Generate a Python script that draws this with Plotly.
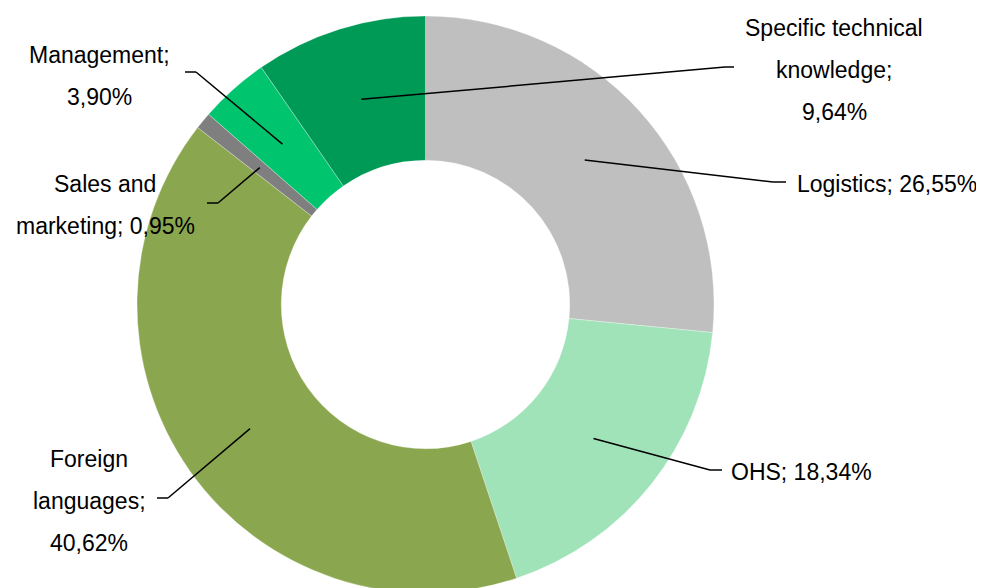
import math

import plotly.graph_objects as go

# ---- data ----
categories = [
    "Logistics",
    "OHS",
    "Foreign languages",
    "Sales and marketing",
    "Management",
    "Specific technical knowledge",
]
shares = [26.55, 18.34, 40.62, 0.95, 3.90, 9.64]
colors = ["#BFBFBF", "#A0E3B9", "#8AA64E", "#7F7F7F", "#00C46E", "#009A57"]

W, H = 984, 588
OFF = 8  # page body margin the figure sits inside
CX, CY, R = 425.5, 304.5, 288.5  # pie centre / outer radius in page px


def px(x, y):
    # page px -> paper coords
    return (x - OFF) / W, 1 - (y - OFF) / H


def fmt(v):
    return f"{v:.2f}".replace(".", ",") + "%"


# label layout: line texts, line anchor (x, y) px, xanchor, elbow, leader end
label_layout = {
    "Logistics": dict(lines=["Logistics; {v}"], x=795, y=[184], xanchor="left",
                      elbow=(773, 182), end=(786, 182)),
    "OHS": dict(lines=["OHS; {v}"], x=729, y=[472], xanchor="left",
                elbow=(710, 470), end=(722, 470)),
    "Foreign languages": dict(lines=["Foreign", "languages;", "{v}"], x=89,
                              y=[459, 501, 543], xanchor="center",
                              elbow=(168, 498), end=(157, 498)),
    "Sales and marketing": dict(lines=["Sales and", "marketing; {v}"], x=105,
                                y=[184, 226], xanchor="center",
                                elbow=(218, 203), end=(207, 203)),
    "Management": dict(lines=["Management;", "{v}"], x=99, y=[55, 97],
                       xanchor="center", elbow=(196, 72), end=(185, 72)),
    "Specific technical knowledge": dict(lines=["Specific technical", "knowledge;", "{v}"],
                                         x=834, y=[28, 70, 112], xanchor="center",
                                         elbow=(725, 67), end=(734, 67)),
}

dx0, dy1 = px(CX - R, CY - R)
dx1, dy0 = px(CX + R, CY + R)

fig = go.Figure(
    go.Pie(
        labels=categories,
        values=shares,
        hole=0.5,
        sort=False,
        direction="clockwise",
        rotation=0,
        marker=dict(colors=colors, line=dict(color="white", width=0.3)),
        textinfo="none",
        hoverinfo="label+percent",
        domain=dict(x=[dx0, dx1], y=[max(dy0, 0), min(dy1, 1)]),
        showlegend=False,
    )
)

annotations = []
shapes = []
total = sum(shares)
cum = 0.0
for name, v in zip(categories, shares):
    mid = (cum + v / 2) / total * 2 * math.pi
    cum += v
    sx = CX + 0.745 * R * math.sin(mid)
    sy = CY - 0.745 * R * math.cos(mid)
    lay = label_layout[name]
    pts = [(sx, sy), lay["elbow"], lay["end"]]
    for (x0, y0), (x1, y1) in zip(pts[:-1], pts[1:]):
        a0, b0 = px(x0, y0)
        a1, b1 = px(x1, y1)
        shapes.append(dict(type="line", xref="paper", yref="paper",
                           x0=a0, y0=b0, x1=a1, y1=b1,
                           line=dict(color="black", width=1.5)))
    for text, ly in zip(lay["lines"], lay["y"]):
        ax, ay = px(lay["x"], ly)
        annotations.append(dict(x=ax, y=ay, xref="paper", yref="paper",
                                text=text.format(v=fmt(v)), showarrow=False,
                                xanchor=lay["xanchor"], yanchor="middle",
                                font=dict(size=23, color="black",
                                          family="Liberation Sans, Arial, sans-serif")))

fig.update_layout(
    width=W,
    height=H,
    margin=dict(l=0, r=0, t=0, b=0),
    paper_bgcolor="white",
    plot_bgcolor="white",
    shapes=shapes,
    annotations=annotations,
)

fig.write_html("out.html")
